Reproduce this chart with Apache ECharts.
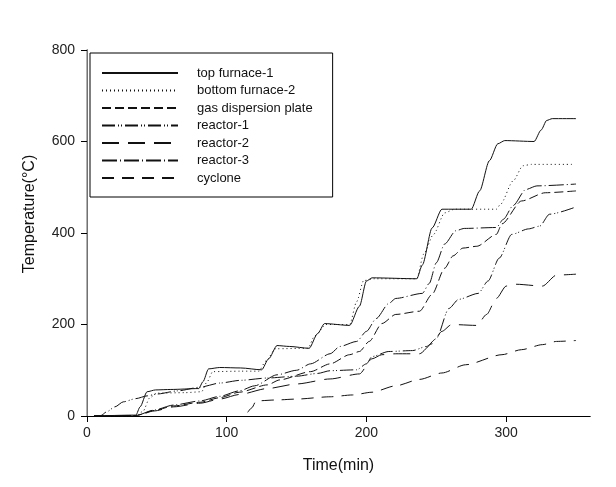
<!DOCTYPE html>
<html>
<head>
<meta charset="utf-8">
<script src="https://cdn.jsdelivr.net/npm/echarts@6/dist/echarts.min.js"></script>
<style>
  html, body { margin: 0; padding: 0; background: #fff; }
  #chart { width: 616px; height: 487px; }
</style>
</head>
<body>
<div id="chart"></div>
<script>
  // series names as in the legend
  var names = ['top furnace-1', 'bottom furnace-2', 'gas dispersion plate', 'reactor-1', 'reactor-2', 'reactor-3', 'cyclone'];

  // time (min) / temperature (°C)
  var topFurnaceTime = [5,35,38,43,49,60,80,83,87,95,110,125,130,136,145,159,165,170,188,195,200,204,236,240,247,254,275,281,288,294,299,320,325,329,333,350];
  var topFurnaceTemp = [0,2,20,53,57,58,60,75,103,106,105,101,125,154,152,148,180,202,198,240,295,302,300,330,411,452,452,492,558,595,602,600,625,646,650,650];

  var bottomFurnaceTime = [5,35,40,45,50,70,82,86,90,110,123,128,135,158,163,171,188,193,198,206,236,241,248,256,263,293,296,305,312,318,347];
  var bottomFurnaceTemp = [0,0,10,40,50,51,53,75,97,98,98,120,147,148,175,200,200,250,296,300,300,354,397,444,452,452,463,514,547,550,550];

  var gasPlateTime = [5,35,48,62,81,95,109,129,138,160,174,188,195,202,211,221,238,247,256,262,269,279,293,297,311,328,350];
  var gasPlateTemp = [0,1,12,22,30,40,52,68,79,97,114,134,141,163,202,222,229,266,323,350,367,371,397,420,470,488,492];

  var reactor1Time = [5,10,14,20,26,35,43,50,65,81,95,110,129,150,165,174,193,200,204,216,233,243,250,259,266,280,287,295,304,316,324,331,350];
  var reactor1Temp = [0,1,9,20,31,38,44,48,55,63,72,78,83,87,93,99,101,114,130,141,143,152,169,235,255,268,295,345,397,409,415,441,457];

  var reactor2Time = [5,35,48,62,81,95,109,129,150,174,195,204,211,221,238,247,254,261,279,286,293,300,307,326,336,350];
  var reactor2Temp = [0,0,11,20,28,37,47,60,70,81,92,125,134,136,136,158,185,200,198,222,257,284,288,284,308,310];

  var reactor3Time = [5,35,48,62,81,95,109,120,136,150,160,174,181,193,200,207,216,221,240,245,250,256,264,270,293,298,305,314,322,350];
  var reactor3Temp = [0,1,13,24,33,43,55,66,90,100,114,136,152,163,185,213,246,257,268,290,335,376,405,410,412,430,460,495,503,507];

  var cycloneTime = [115,118,121,135,150,174,190,204,221,238,254,271,297,311,326,336,350];
  var cycloneTemp = [8,18,33,35,37,42,46,52,66,80,94,112,134,145,156,163,165];

  var xTicks = [0, 100, 200, 300];
  var yTicks = [0, 200, 400, 600, 800];

  function zip(a, b) {
    var out = [];
    for (var i = 0; i < a.length; i++) out.push([a[i], b[i]]);
    return out;
  }

  var lineData = [
    zip(topFurnaceTime, topFurnaceTemp),
    zip(bottomFurnaceTime, bottomFurnaceTemp),
    zip(gasPlateTime, gasPlateTemp),
    zip(reactor1Time, reactor1Temp),
    zip(reactor2Time, reactor2Temp),
    zip(reactor3Time, reactor3Temp),
    zip(cycloneTime, cycloneTemp)
  ];
  // dash patterns, same order as names
  var dashes = ['solid', [1, 3], [9, 4], [13, 3, 1, 2, 1, 3], [17, 9], [15, 3, 1, 3], [12, 8]];

  var myChart = echarts.init(document.getElementById('chart'));

  var series = names.map(function (n, i) {
    return {
      name: n,
      type: 'line',
      data: lineData[i],
      symbol: 'none',
      smooth: 0.25,
      smoothMonotone: 'x',
      lineStyle: { color: '#111', width: 1, type: dashes[i] },
      itemStyle: { color: '#111' }
    };
  });

  var option = {
    animation: false,
    backgroundColor: '#fff',
    textStyle: { fontFamily: 'Liberation Sans' },
    grid: { left: 87, right: 26, top: 50, bottom: 71 },
    legend: {
      data: names,
      orient: 'vertical',
      left: 90,
      top: 53,
      padding: [13, 20, 12, 11],
      borderColor: '#000',
      borderWidth: 1,
      itemWidth: 76,
      itemHeight: 14,
      itemGap: 3.5,
      selectedMode: false,
      // hide the circle that line series put in their legend icon
      itemStyle: { opacity: 0 },
      textStyle: { fontSize: 13, color: '#111', padding: [0, 0, 0, 14], lineHeight: 14 }
    },
    xAxis: [{
      type: 'value',
      min: xTicks[0],
      max: 360,
      interval: 100,
      name: 'Time(min)',
      nameLocation: 'middle',
      nameGap: 42,
      nameTextStyle: { fontSize: 16, color: '#111' },
      axisLine: { lineStyle: { color: '#000', width: 1 } },
      axisTick: { inside: false, length: 6, lineStyle: { color: '#000' } },
      axisLabel: { fontSize: 14, color: '#222', margin: 10, showMaxLabel: false },
      splitLine: { show: false }
    }, {
      type: 'value',
      position: 'top',
      min: 0,
      max: 360,
      axisLine: { show: true, lineStyle: { color: '#000', width: 1 } },
      axisTick: { show: false },
      axisLabel: { show: false },
      splitLine: { show: false }
    }],
    yAxis: [{
      type: 'value',
      min: yTicks[0],
      max: yTicks[yTicks.length - 1],
      interval: 200,
      axisLine: { show: true, lineStyle: { color: '#000', width: 1 } },
      axisTick: { show: true, length: 6, lineStyle: { color: '#000' } },
      axisLabel: { fontSize: 14, color: '#222', margin: 12 },
      splitLine: { show: false }
    }, {
      type: 'value',
      position: 'right',
      min: 0,
      max: 800,
      axisLine: { show: true, lineStyle: { color: '#999', width: 1.5 } },
      axisTick: { show: false },
      axisLabel: { show: false },
      splitLine: { show: false }
    }],
    graphic: [{
      type: 'text',
      x: 30,
      y: 214,
      rotation: Math.PI / 2,
      style: {
        text: 'Temperature(°C)',
        fontSize: 16,
        fontFamily: 'Liberation Sans',
        fill: '#111',
        align: 'center',
        verticalAlign: 'middle'
      }
    }],
    series: series
  };

  myChart.setOption(option);
</script>
</body>
</html>
